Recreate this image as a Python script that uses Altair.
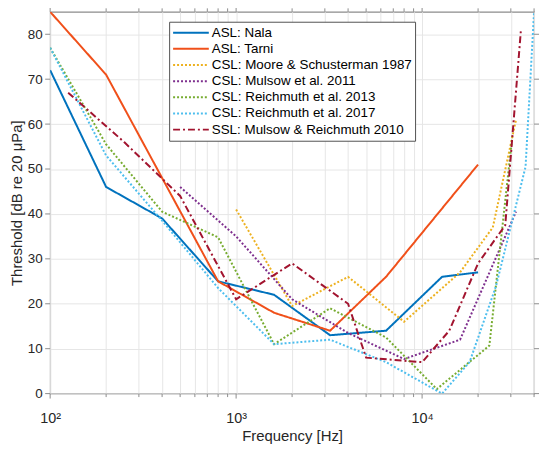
import altair as alt
import pandas as pd

series = ["ASL: Nala", "ASL: Tarni", "CSL: Moore & Schusterman 1987",
          "CSL: Mulsow et al. 2011", "CSL: Reichmuth et al. 2013",
          "CSL: Reichmuth et al. 2017", "SSL: Mulsow & Reichmuth 2010"]
colors = ["#0072BD", "#F0501A", "#EDB120", "#7E2F8E", "#77AC30", "#4DBEEE", "#A2142F"]
dashes = [[1, 0], [1, 0], [2, 2], [2, 2], [2, 2], [2, 2], [7, 3, 2, 3]]

nala_f = [100, 200, 400, 800, 1600, 3200, 6400, 12800, 20000]
nala_v = [72, 46, 39, 25, 22, 13, 14, 26, 27]

tarni_f = [100, 200, 400, 800, 1600, 3200, 6400, 20000]
tarni_v = [85, 71, 48, 25, 18, 14, 26, 51]

moore_f = [1000, 2000, 4000, 8000, 16000, 24000, 32000]
moore_v = [41, 19.5, 26, 16, 27, 37, 61]

mulsow11_f = [500, 1000, 2000, 4000, 8000, 16000, 32000]
mulsow11_v = [46, 35, 21, 13.5, 7.7, 12, 40.5]

reich13_f = [100, 200, 400, 800, 1600, 3200, 6400, 12000, 23000, 30500]
reich13_v = [77, 55.5, 40.5, 34.8, 11, 19, 12.5, 1, 10.7, 57]

reich17_f = [100, 200, 400, 800, 1600, 3200, 6400, 12800, 18000, 25000, 36000, 40000]
reich17_v = [77, 53, 38.5, 23.5, 11, 12, 7, 0, 7, 24, 50.5, 85]

ssl_f = [125, 250, 500, 1000, 2000, 4000, 5000, 10000, 14000, 20000, 28000, 34000]
ssl_v = [67, 56, 44, 21, 29, 20, 8, 7, 14, 29, 37.5, 81]

x_major = [100, 1000, 10000]
x_minor = [200, 300, 400, 500, 600, 700, 800, 900,
           2000, 3000, 4000, 5000, 6000, 7000, 8000, 9000,
           20000, 30000, 40000]
y_ticks = [0, 10, 20, 30, 40, 50, 60, 70, 80]

all_f = [nala_f, tarni_f, moore_f, mulsow11_f, reich13_f, reich17_f, ssl_f]
all_v = [nala_v, tarni_v, moore_v, mulsow11_v, reich13_v, reich17_v, ssl_v]

rows = []
for s, fs, vs in zip(series, all_f, all_v):
    for i, (f, v) in enumerate(zip(fs, vs)):
        rows.append({"series": s, "freq": f, "thr": v, "idx": i})
df = pd.DataFrame(rows)

W, H = 488, 385
FONT = "Liberation Sans"
TXT = "#262626"
AX = "#8c8c8c"
GRID = "#e6e6e6"

x_axis = alt.Axis(
    values=x_major + x_minor,
    labelExpr="datum.value == 100 ? '10²' : datum.value == 1000 ? '10³' : datum.value == 10000 ? '10⁴' : ''",
    title="Frequency [Hz]", grid=True, gridColor=GRID, ticks=False, tickSize=0,
    domain=False, labelPadding=18, labelFontSize=14.5, labelFont=FONT, labelColor=TXT,
    titleFont=FONT, titleFontSize=15, titleColor=TXT, titleFontWeight="normal",
    titlePadding=4, labelFlush=False, labelOverlap=False)
y_axis = alt.Axis(
    values=y_ticks, title="Threshold [dB re 20 μPa]", grid=True, gridColor=GRID,
    ticks=False, tickSize=0, domain=False, labelPadding=8, labelFontSize=13.5,
    labelFont=FONT, labelColor=TXT, titleFont=FONT, titleFontSize=15, titleColor=TXT,
    titleFontWeight="normal", titlePadding=3)

x_enc = alt.X("freq:Q", scale=alt.Scale(type="log", domain=[100, 40000], nice=False), axis=x_axis)
y_enc = alt.Y("thr:Q", scale=alt.Scale(domain=[0, 85], nice=False, zero=False), axis=y_axis)

lines = alt.Chart(df).mark_line(strokeWidth=2, clip=True).encode(
    x=x_enc, y=y_enc,
    color=alt.Color("series:N", scale=alt.Scale(domain=series, range=colors),
                    legend=alt.Legend(title=None)),
    strokeDash=alt.StrokeDash("series:N", scale=alt.Scale(domain=series, range=dashes),
                              legend=alt.Legend(title=None)),
    order=alt.Order("idx:Q"),
)

xmaj = pd.DataFrame({"freq": x_major})
xmin = pd.DataFrame({"freq": x_minor})
ydf = pd.DataFrame({"thr": y_ticks})

def xticks(data, y0, y1):
    return alt.Chart(data).mark_rule(color=AX, strokeWidth=1).encode(
        x=x_enc, y=alt.value(y0), y2=alt.value(y1))

def yticks(x0, x1):
    return alt.Chart(ydf).mark_rule(color=AX, strokeWidth=1).encode(
        y=y_enc, x=alt.value(x0), x2=alt.value(x1))

chart = alt.layer(
    lines,
    xticks(xmaj, H, H + 5), xticks(xmin, H, H + 3.5),
    xticks(xmaj, 0, -5), xticks(xmin, 0, -3.5),
    yticks(0, -5), yticks(W, W + 5),
).properties(
    width=W, height=H,
    autosize=alt.AutoSizeParams(type="none"),
    padding={"left": 42.5, "top": 2, "right": 8, "bottom": 52},
).configure_view(
    stroke=AX, strokeWidth=1.2
).configure_legend(
    orient="none", legendX=120, legendY=10, fillColor="white", strokeColor="#505050",
    padding=3, labelFont=FONT, labelFontSize=13.5, labelColor="#000000", labelLimit=400,
    symbolType="stroke", symbolSize=1296, symbolStrokeWidth=2, clipHeight=16,
    rowPadding=0.3, labelOffset=2,
)

chart.save("out.html", embed_options={"renderer": "svg", "actions": False})
